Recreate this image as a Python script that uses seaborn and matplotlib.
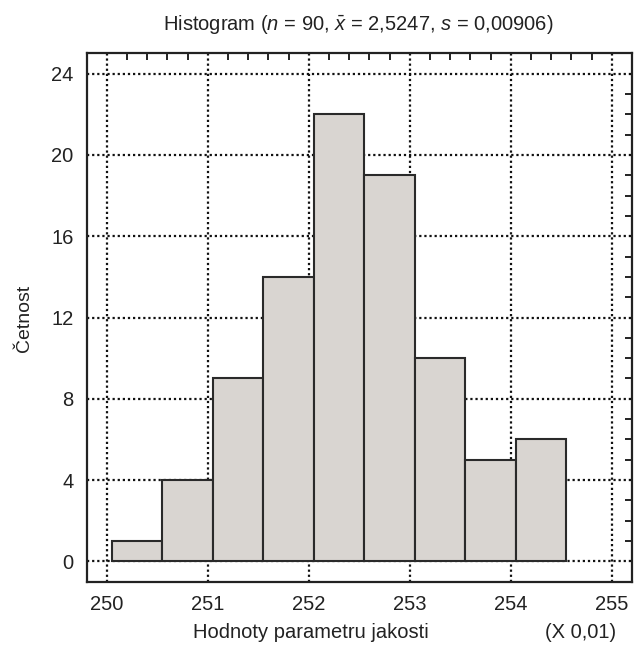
import numpy as np
import pandas as pd
import matplotlib
matplotlib.use("Agg")
import matplotlib.pyplot as plt
from matplotlib.ticker import MultipleLocator
import seaborn as sns

# histogram (n = 90)
bin_edges = [250.05, 250.55, 251.05, 251.55, 252.05, 252.55, 253.05, 253.55, 254.05, 254.55]
bin_centers = [250.3, 250.8, 251.3, 251.8, 252.3, 252.8, 253.3, 253.8, 254.3]
counts = [1, 4, 9, 14, 22, 19, 10, 5, 6]
x_ticks = [250, 251, 252, 253, 254, 255]
y_ticks = [0, 4, 8, 12, 16, 20, 24]

sns.set_style("white")
plt.rcParams['font.family'] = ['Liberation Sans', 'DejaVu Sans']
plt.rcParams['mathtext.fontset'] = 'custom'
plt.rcParams['mathtext.rm'] = 'Liberation Sans'
plt.rcParams['mathtext.it'] = 'Liberation Sans:italic'

df = pd.DataFrame({'value': bin_centers, 'count': counts})

fig = plt.figure(figsize=(6.35, 6.47), dpi=100)
ax = fig.add_axes([0.1365, 0.1009, 0.8588, 0.8167])

# dotted grid behind the bars
dots = (0, (1, 1.3))
for xv in x_ticks:
    ax.axvline(xv, color='#111111', lw=1.6, ls=dots, zorder=0)
for yv in y_ticks:
    ax.axhline(yv, color='#111111', lw=1.6, ls=dots, zorder=0)

sns.histplot(data=df, x='value', weights='count', bins=bin_edges, ax=ax,
             color='#d9d5d1', edgecolor='#2a2a2a', linewidth=1.5, alpha=1, zorder=2)

ax.set_xlim(249.8, 255.2)
ax.set_ylim(-1, 25)
ax.set_xticks(x_ticks)
ax.set_yticks(y_ticks)
ax.xaxis.set_minor_locator(MultipleLocator(0.2))
ax.yaxis.set_minor_locator(MultipleLocator(1))
ax.tick_params(which='both', direction='in', top=True, right=True,
               color='#222222', width=1.4)
ax.tick_params(which='major', length=0, labelsize=14.5, pad=9.5, labelcolor='#222222')
ax.tick_params(which='minor', length=5)

for s in ax.spines.values():
    s.set_linewidth(1.6)
    s.set_color('#222222')

ax.set_xlabel('')
ax.set_ylabel('')

fig.text(0.564, 1 - 25 / 647,
         r'Histogram ($n$ = 90, $\bar{x}$ = 2,5247, $s$ = 0,00906)',
         ha='center', va='center', fontsize=14.5, color='#222222')
fig.text(311 / 635, 1 - 633 / 647, 'Hodnoty parametru jakosti',
         ha='center', va='center', fontsize=14.5, color='#222222')
fig.text(581 / 635, 1 - 633 / 647, '(X 0,01)',
         ha='center', va='center', fontsize=14.5, color='#222222')
fig.text(24 / 635, 1 - 318 / 647, 'Četnost', rotation=90,
         ha='center', va='center', fontsize=14, color='#222222')

fig.savefig('out.png', dpi=100, facecolor='white')
